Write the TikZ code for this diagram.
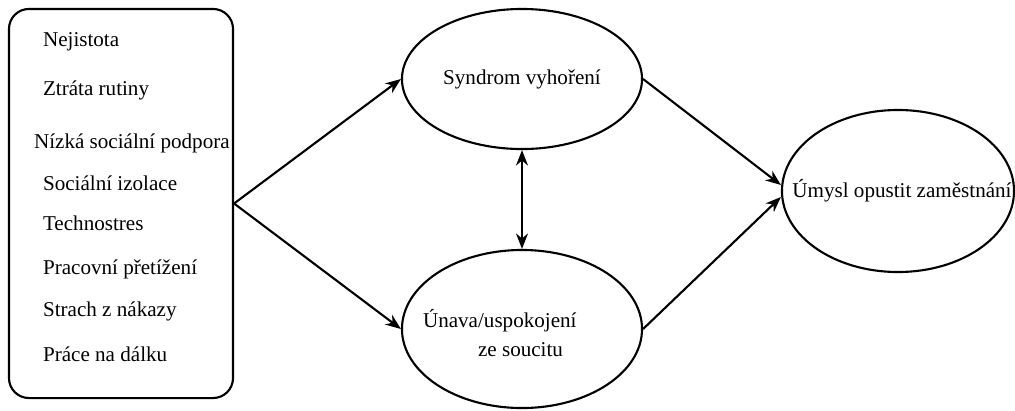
\documentclass[tikz,border=0pt]{standalone}
\usepackage{fontspec}
\setmainfont{Liberation Serif}
\usetikzlibrary{arrows.meta,shapes.geometric}

\begin{document}
\begin{tikzpicture}[x=0.025cm,y=-0.025cm,line width=1.5pt,
                    >={Stealth[length=11pt,width=8.5pt]},
                    font=\fontsize{15}{18}\selectfont,
                    bubble/.style={ellipse,draw,inner sep=0pt},
                    item/.style={anchor=base west,inner sep=0pt}]
\useasboundingbox (0,0) rectangle (1015,410);
% left box with the factors
\node[draw,rounded corners=0.5cm,minimum width=5.6cm,
      minimum height=9.725cm] (stressors) at (121,203.5) {};
\node[item] (f1) at (42,46) {Nejistota};
\node[item] (f2) at (42,95) {Ztráta rutiny};
\node[item] (f3) at (33,148) {Nízká sociální podpora};
\node[item] (f4) at (42,190) {Sociální izolace};
\node[item] (f5) at (42,230) {Technostres};
\node[item] (f6) at (42,274) {Pracovní přetížení};
\node[item] (f7) at (42,316) {Strach z nákazy};
\node[item] (f8) at (42,361) {Práce na dálku};
% outcomes
\node[bubble,minimum width=6cm,minimum height=3.5cm] (burnout) at (522,79) {};
\node (burnouttxt) at (burnout) {Syndrom vyhoření};
\node[bubble,minimum width=6cm,minimum height=3.95cm] (fatigue) at (522,329) {};
\node[align=left,anchor=west,inner sep=0pt] (fatiguetxt) at (422,333)
     {Únava/uspokojení\\[2pt]\hspace*{1.375cm}ze soucitu};
\node[bubble,minimum width=5.8cm,minimum height=4.05cm] (quit) at (898,191) {};
\node[xshift=0.1cm] (quittxt) at (quit) {Úmysl opustit zaměstnání};
\draw[->] (stressors.east) -- (burnout.west);
\draw[->] (stressors.east) -- (fatigue.west);
\draw[<->] (burnout.south) -- (fatigue.north);
\draw[->] (burnout.east) -- ([yshift=0.15cm]quit.west);
\draw[->] (fatigue.east) -- ([yshift=-0.15cm]quit.west);
\end{tikzpicture}
\end{document}
